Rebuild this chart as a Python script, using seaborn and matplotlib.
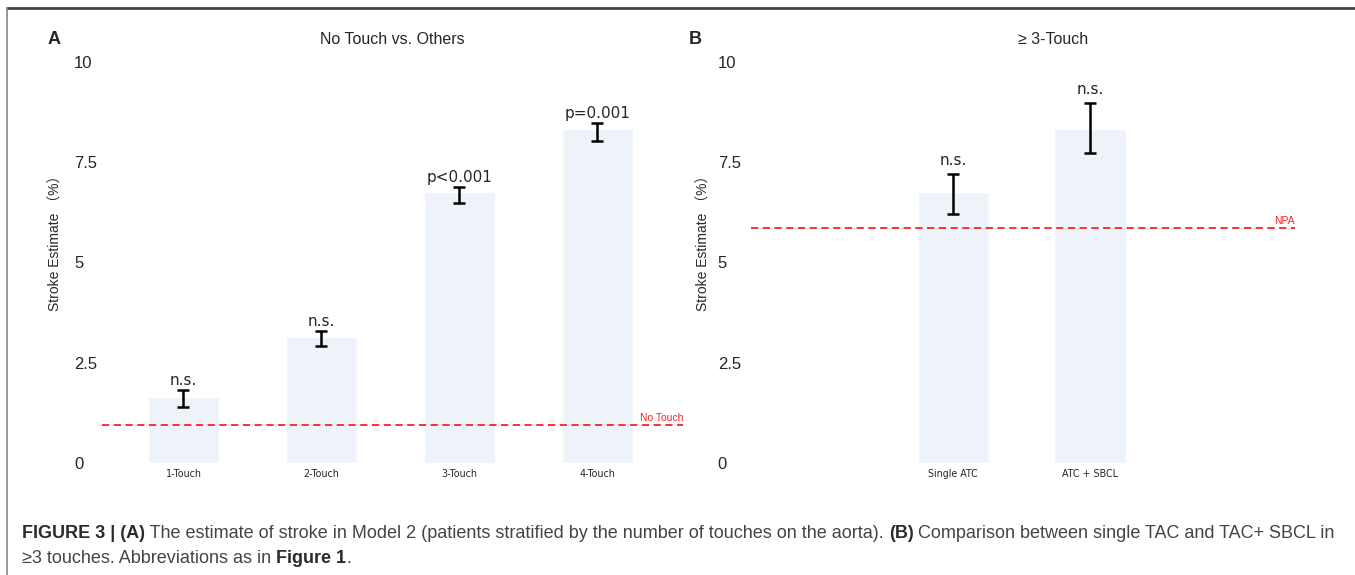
import numpy as np
import pandas as pd
import seaborn as sns
import matplotlib
matplotlib.use("Agg")
from matplotlib import pyplot as plt
from matplotlib.lines import Line2D

# panel A: no touch vs others
touch_groups = ["1-Touch", "2-Touch", "3-Touch", "4-Touch"]
touch_est = [1.65, 3.13, 6.76, 8.33]
touch_lo = [1.40, 2.93, 6.48, 8.02]
touch_hi = [1.83, 3.28, 6.88, 8.47]
touch_sig = ["n.s.", "n.s.", "p<0.001", "p=0.001"]
no_touch_ref = 0.95

# panel B: >= 3 touch
atc_groups = ["Single ATC", "ATC + SBCL"]
atc_est = [6.75, 8.33]
atc_lo = [6.22, 7.72]
atc_hi = [7.20, 8.97]
atc_sig = ["n.s.", "n.s."]
npa_ref = 5.85

y_ticks = [0, 2.5, 5, 7.5, 10]
y_ticklabels = ["0", "2.5", "5", "7.5", "10"]

bar_color = "#eef2f9"
ref_color = "#ff2020"
narrow = ["Liberation Sans Narrow", "Liberation Sans"]

sns.set_theme(style="white")
plt.rcParams["font.family"] = ["Liberation Sans", "DejaVu Sans"]

fig = plt.figure(figsize=(13.55, 5.75), dpi=100)
W, H = 1355, 575


def px_axes(x0, x1, y0, y1):
    return fig.add_axes([x0 / W, 1 - y1 / H, (x1 - x0) / W, (y1 - y0) / H])


def panel(ax, groups, est, lo, hi, sig, ref, ref_label, xlim, sig_pad, ypad):
    df = pd.DataFrame({"group": groups, "est": est})
    sns.barplot(data=df, x="group", y="est", color=bar_color, saturation=1,
                width=0.52, errorbar=None, ax=ax)
    x = np.arange(len(groups))
    est = np.array(est)
    ax.errorbar(x, est, yerr=[est - np.array(lo), np.array(hi) - est], fmt="none",
                ecolor="black", elinewidth=1.8, capsize=4, capthick=1.8)
    for xi, h, s in zip(x, hi, sig):
        ax.annotate(s, (xi, h), xytext=(0, sig_pad), textcoords="offset points",
                    ha="center", va="bottom", fontsize=11, family="DejaVu Sans")
    ax.axhline(ref, color=ref_color, lw=1.3, ls=(0, (4, 2.5)))
    ax.annotate(ref_label, (xlim[1], ref), xytext=(0, 1.5), textcoords="offset points",
                ha="right", va="bottom", fontsize=7.5, color=ref_color, family=narrow)
    ax.set_xlim(*xlim)
    ax.set_ylim(0, 10)
    ax.set_yticks(y_ticks)
    ax.set_yticklabels(y_ticklabels, fontsize=12)
    for lab in ax.get_yticklabels():
        lab.set_horizontalalignment("left")
    ax.tick_params(axis="y", length=0, pad=ypad)
    ax.tick_params(axis="x", length=0, pad=4)
    for lab in ax.get_xticklabels():
        lab.set_fontsize(7.7)
        lab.set_family("DejaVu Sans")
        lab.set_fontstretch("condensed")
    ax.set_xlabel("")
    ax.set_ylabel("")
    for s in ax.spines.values():
        s.set_visible(False)


axA = px_axes(102, 683, 62, 463)
panel(axA, touch_groups, touch_est, touch_lo, touch_hi, touch_sig,
      no_touch_ref, "No Touch", (-0.59, 3.62), 1.5, 20)

axB = px_axes(751, 1295, 62, 463)
panel(axB, atc_groups, atc_est, atc_lo, atc_hi, atc_sig,
      npa_ref, "NPA", (-1.48, 2.5), 4.5, 24)

# titles, panel letters, y labels
fig.text(392 / W, 1 - 40 / H, "No Touch vs. Others", ha="center", va="center", fontsize=11.5)
fig.text(1053 / W, 1 - 40 / H, "≥ 3-Touch", ha="center", va="center", fontsize=11.5)
fig.text(48 / W, 1 - 40 / H, "A", ha="left", va="center", fontsize=13, fontweight="bold")
fig.text(689 / W, 1 - 40 / H, "B", ha="left", va="center", fontsize=13, fontweight="bold")
for xl in (56, 704):
    fig.text(xl / W, 1 - 240 / H, "Stroke Estimate （%）", rotation=90, ha="center",
             va="center", fontsize=10, family=["Liberation Sans", "Noto Sans CJK SC"])

# frame
fig.add_artist(Line2D([7 / W, 1], [1 - 8 / H] * 2, transform=fig.transFigure,
                      color="#444444", lw=2))
fig.add_artist(Line2D([7 / W] * 2, [0, 1 - 8 / H], transform=fig.transFigure,
                      color="#888888", lw=1.2))

# caption with mixed bold / regular pieces
renderer = fig.canvas.get_renderer()


def rich_line(x, y, pieces, size=13):
    for s, bold in pieces:
        t = fig.text(x / W, 1 - y / H, s, fontsize=size, va="baseline",
                     fontweight="bold" if bold else "normal",
                     color="#2b2b2b" if bold else "#444444", family=narrow)
        bb = t.get_window_extent(renderer=renderer)
        x = bb.x1


rich_line(22, 538, [("FIGURE 3 | (A)", True),
                    (" The estimate of stroke in Model 2 (patients stratified by the number of touches on the aorta). ", False),
                    ("(B)", True),
                    (" Comparison between single TAC and TAC+ SBCL in", False)])
rich_line(22, 563, [("≥3 touches. Abbreviations as in ", False),
                    ("Figure 1", True),
                    (".", False)])

fig.savefig("out.png", dpi=100)
